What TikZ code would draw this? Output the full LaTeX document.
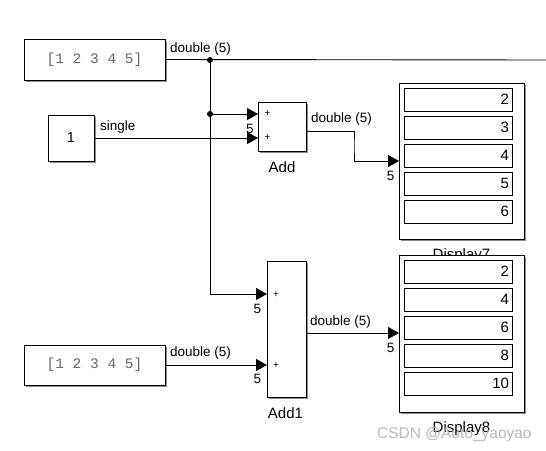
\documentclass[tikz,border=0pt]{standalone}
\usepackage{fontspec}
\setmainfont{Liberation Sans}
\newfontfamily\monofont{Liberation Mono}
\usetikzlibrary{arrows.meta,shadows}
\definecolor{constgray}{RGB}{105,105,105}
\tikzstyle{block} = [draw=black, line width=0.9pt, fill=white, inner sep=0pt, drop shadow={shadow xshift=1.5pt, shadow yshift=-1.5pt, fill=black!45, opacity=1}]
\tikzstyle{constval} = [block, font={\monofont\fontsize{14.5}{16}\selectfont}, text=constgray]
\tikzstyle{field} = [draw=black, line width=0.8pt, inner xsep=3pt, inner ysep=0pt, text width=102pt, align=right, minimum height=23pt, font={\fontsize{15}{17}\selectfont}]
\tikzstyle{sig} = [line width=0.9pt, -{Triangle[length=11pt, width=12pt]}]
\tikzstyle{wire} = [line width=0.9pt]
\tikzstyle{lbl} = [anchor=base west, inner sep=0pt, font={\fontsize{13.5}{16}\selectfont}]
\tikzstyle{portnum} = [anchor=base, inner sep=0pt, font={\fontsize{13.5}{16}\selectfont}]
\tikzstyle{plussign} = [inner sep=0pt, font={\fontsize{10}{12}\selectfont}]
\tikzstyle{blockname} = [anchor=base, inner sep=0pt, font={\fontsize{15}{18}\selectfont}]
\tikzstyle{junction} = [circle, fill=black, inner sep=0pt, minimum size=6pt]

\begin{document}
\begin{tikzpicture}[x=1pt, y=-1pt]
  \useasboundingbox (0,0) rectangle (546,450);
  \node[constval, minimum width=141pt, minimum height=41pt](c1) at (94.5,59.5){[1 2 3 4 5]};
  \node[block, minimum width=46pt, minimum height=46pt, font={\fontsize{14.5}{16}\selectfont}](one) at (71,138){1};
  \node[constval, minimum width=141pt, minimum height=40pt](c2) at (94.5,365){[1 2 3 4 5]};
  \node[block, minimum width=48pt, minimum height=49pt](add) at (282,126.5){};
  \node[block, minimum width=39pt, minimum height=136pt](add1) at (286.5,329){};
  \node[block, minimum width=125pt, minimum height=156pt](disp7) at (461.5,161){};
  \foreach \v [count=\i] in {2,3,4,5,6}
    \node[field](d7f\i) at (458,{99.5+28*(\i-1)}){\v};
  \node[blockname](disp7name) at (461.5,259){Display7};
  \node[block, minimum width=125pt, minimum height=157pt](disp8) at (461.5,333.5){};
  \foreach \v [count=\i] in {2,4,6,8,10}
    \node[field](d8f\i) at (458,{271.5+28*(\i-1)}){\v};
  \node[blockname](disp8name) at (461.5,432){Display8};
  \node[blockname](addname) at (282,172){Add};
  \node[blockname](add1name) at (285.5,418){Add1};
  \node[plussign](p1) at (267.5,114){+};
  \node[plussign](p2) at (267.5,138){+};
  \node[plussign](p3) at (276,295){+};
  \node[plussign](p4) at (276,366){+};
  \coordinate (out) at (546,60);
  \coordinate (addIn1) at (258,114);
  \coordinate (addIn2) at (258,138);
  \coordinate (addOut) at (306,131);
  \coordinate (bend) at (354,146);
  \coordinate (add1In1) at (267,294);
  \coordinate (add1In2) at (267,365);
  \coordinate (add1Out) at (306,333);
  \coordinate (d7In) at (399,161);
  \coordinate (d8In) at (399,333);
  \node[junction](j1) at (210,60){};
  \node[junction](j2) at (210,114){};
  \draw[wire](c1.east)--(out);
  \draw[sig](j1.center) |- (add1In1);
  \draw[sig](j2.center)--(addIn1);
  \draw[sig](one.east |- addIn2)--(addIn2);
  \draw[sig](addOut) -| (bend) |- (d7In);
  \draw[sig](c2.east |- add1In2)--(add1In2);
  \draw[sig](add1Out)--(d8In);
  \node[lbl](l1) at (170,52){double (5)};
  \node[lbl](l2) at (100,130){single};
  \node[lbl](l3) at (311,122){double (5)};
  \node[lbl](l4) at (310,325){double (5)};
  \node[lbl](l5) at (170,356){double (5)};
  \node[portnum](n1) at (250,133){5};
  \node[portnum](n2) at (390.5,180){5};
  \node[portnum](n3) at (257.5,313){5};
  \node[portnum](n4) at (257.5,383){5};
  \node[portnum](n5) at (390.5,352){5};
  \node[lbl, text=black!30, opacity=0.9, font={\fontsize{15.5}{18}\selectfont}](wm) at (377,438){CSDN @Auto\_yaoyao};
\end{tikzpicture}
\end{document}
